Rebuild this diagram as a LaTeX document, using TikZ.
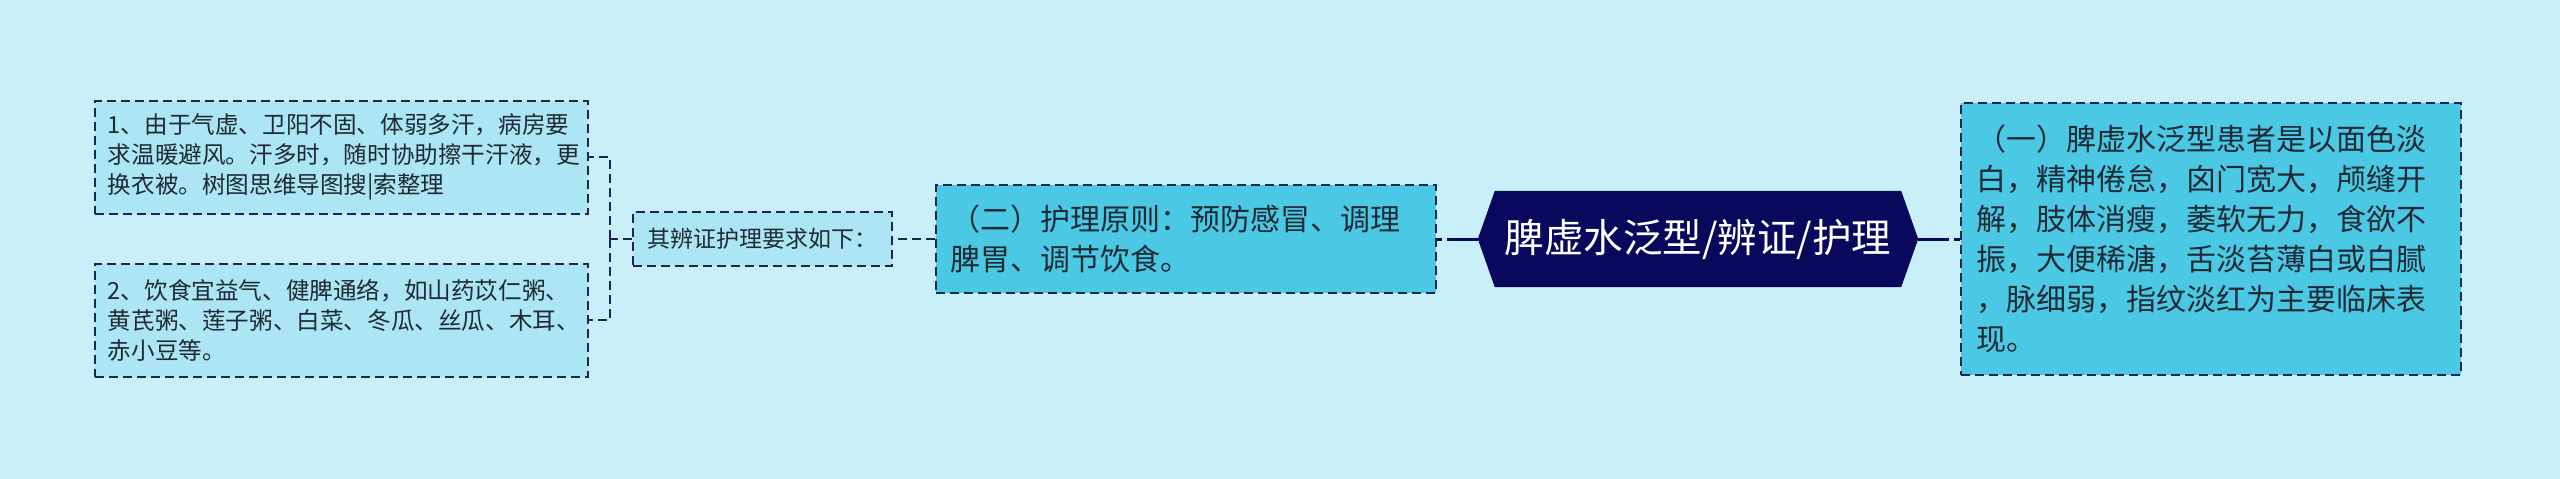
\documentclass[tikz,border=0pt]{standalone}
\usepackage{fontspec}
\usepackage{xcolor}
\usepackage{tikz}
\usetikzlibrary{positioning}
\usetikzlibrary{backgrounds}
\newfontfamily\cjk{Noto Sans CJK SC}
\definecolor{bgblue}{RGB}{201,240,248}
\definecolor{paleblue}{RGB}{172,229,243}
\definecolor{midblue}{RGB}{74,200,228}
\definecolor{navy}{RGB}{8,8,92}
\definecolor{edge}{RGB}{28,38,82}
\definecolor{ink}{RGB}{30,42,52}

\begin{document}
\begin{tikzpicture}[x=1pt, y=-1pt,
    box/.style={draw=edge, line width=2pt, dash pattern=on 9pt off 5pt, text=ink, align=left, inner ysep=0pt},
    leaf/.style={box, fill=paleblue, font=\cjk\fontsize{23.6pt}{30pt}\selectfont, text width=467pt, inner xsep=13pt, minimum height=113pt},
    topic/.style={box, fill=midblue, font=\cjk\fontsize{30pt}{40pt}\selectfont, text width=470pt, inner xsep=15pt},
    ask/.style={box, fill=paleblue, font=\cjk\fontsize{23pt}{28pt}\selectfont, minimum width=259pt, minimum height=54pt, inner xsep=0pt},
    root/.style={text=white, font=\cjk\fontsize{39.5pt}{46pt}\selectfont, minimum width=440pt, minimum height=96pt, inner sep=0pt},
    link/.style={draw=edge, line width=2pt, dash pattern=on 9pt off 5pt},
    trunk/.style={draw=navy, line width=3pt, dash pattern=on 31pt off 5pt}]
  \useasboundingbox (0,0) rectangle (2560,479);
  \node[root] (root) at (1698,239) {脾虚水泛型/辨证/护理};
  \node[topic, minimum height=108pt, left=41pt of root] (care) {（二）护理原则：预防感冒、调理\\脾胃、调节饮食。};
  \node[topic, minimum height=272pt, right=42pt of root] (sign) {（一）脾虚水泛型患者是以面色淡\\白，精神倦怠，囟门宽大，颅缝开\\解，肢体消瘦，萎软无力，食欲不\\振，大便稀溏，舌淡苔薄白或白腻\\，脉细弱，指纹淡红为主要临床表\\现。};
  \node[ask, left=42pt of care] (ask) {其辨证护理要求如下：};
  \node[leaf, left=43pt of ask, yshift=82pt] (note1) {1、由于气虚、卫阳不固、体弱多汗，病房要\\求温暖避风。汗多时，随时协助擦干汗液，更\\换衣被。树图思维导图搜|索整理};
  \node[leaf, left=43pt of ask, yshift=-81pt] (note2) {2、饮食宜益气、健脾通络，如山药苡仁粥、\\黄芪粥、莲子粥、白菜、冬瓜、丝瓜、木耳、\\赤小豆等。};
  \coordinate (fork) at ([xshift=-22pt]ask.west);
  \draw[trunk] (root.west) -- (care.east);
  \draw[trunk] (root.east) -- (sign.west);
  \draw[link] (care.west) -- (ask.east);
  \draw[link] (ask.west) -- (fork);
  \draw[link] (fork) |- (note1.east);
  \draw[link] (fork) |- (note2.east);
  \begin{scope}[on background layer]
    \fill[bgblue] (0,0) rectangle (2560,479);
    \fill[navy] (root.west) -- ([xshift=17pt]root.north west) -- ([xshift=-17pt]root.north east)
      -- (root.east) -- ([xshift=-17pt]root.south east) -- ([xshift=17pt]root.south west) -- cycle;
  \end{scope}
\end{tikzpicture}
\end{document}
